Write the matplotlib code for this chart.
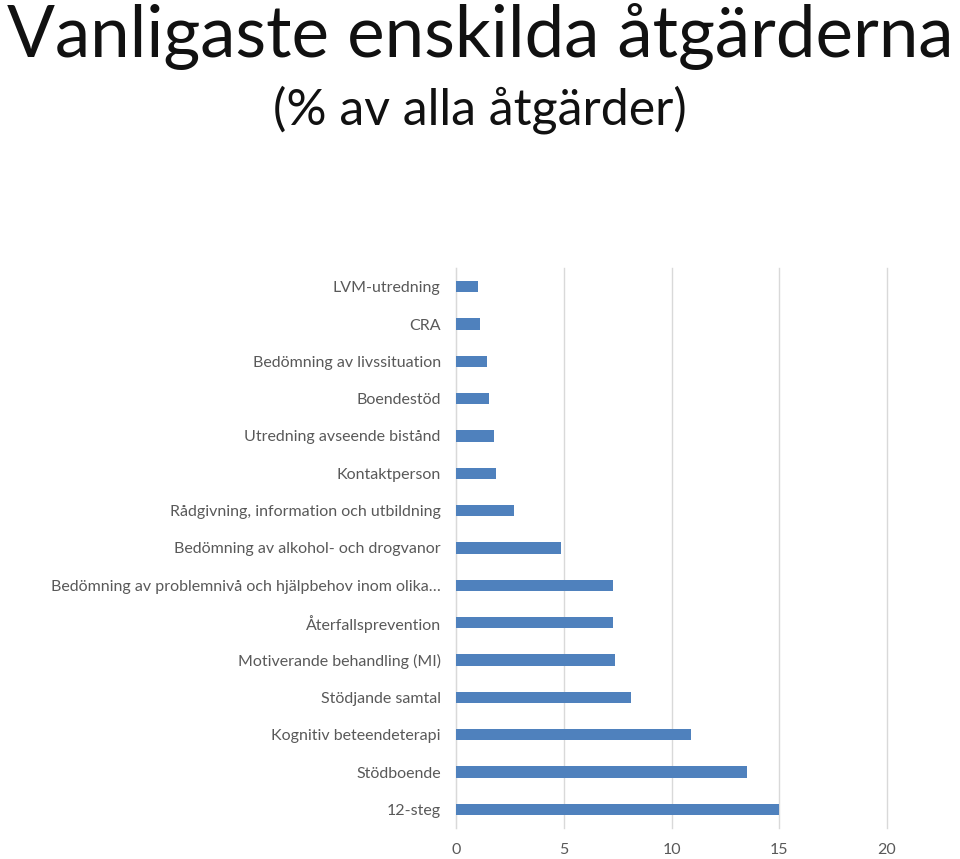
import numpy as np
import matplotlib.pyplot as plt

plt.rcParams['font.family'] = ['Lato', 'DejaVu Sans']

# data, top to bottom as in the chart
categories = ['LVM-utredning', 'CRA', 'Bedömning av livssituation', 'Boendestöd',
              'Utredning avseende bistånd', 'Kontaktperson',
              'Rådgivning, information och utbildning',
              'Bedömning av alkohol- och drogvanor',
              'Bedömning av problemnivå och hjälpbehov inom olika…',
              'Återfallsprevention', 'Motiverande behandling (MI)',
              'Stödjande samtal', 'Kognitiv beteendeterapi', 'Stödboende', '12-steg']
values = [1.02, 1.11, 1.43, 1.53, 1.75, 1.84, 2.68, 4.87, 7.28, 7.28, 7.37,
          8.10, 10.91, 13.51, 15.0]
xticks = [0, 5, 10, 15, 20]

fig = plt.figure(figsize=(9.6, 8.59), dpi=100)
ax = fig.add_axes([456/960, 1 - 828/859, (887-456)/960, (828-268)/859])

y = np.arange(len(categories))
ax.barh(y, values, height=0.3, color='#4f81bd', zorder=3)
ax.set_ylim(len(categories) - 0.5, -0.5)
ax.set_xlim(0, 20)
ax.set_yticks(y)
ax.set_yticklabels(categories, fontsize=11.5, color='#595959')
ax.set_xticks(xticks)
ax.set_xticklabels([str(t) for t in xticks], fontsize=11.5, color='#595959')
ax.tick_params(axis='both', length=0)
ax.tick_params(axis='y', pad=11)
ax.tick_params(axis='x', pad=11)
ax.grid(axis='x', color='#d9d9d9', linewidth=1, zorder=0)
for gl in ax.get_xgridlines():
    gl.set_clip_on(False)
for s in ['top', 'right', 'bottom']:
    ax.spines[s].set_visible(False)
ax.spines['left'].set_color('#d9d9d9')

fig.text(0.5, 1 - 36/859, 'Vanligaste enskilda åtgärderna', ha='center', va='center',
         fontsize=51, color='#111111')
fig.text(0.5, 1 - 110/859, '(% av alla åtgärder)', ha='center', va='center',
         fontsize=36, color='#111111')

fig.savefig('out.png', dpi=100)
